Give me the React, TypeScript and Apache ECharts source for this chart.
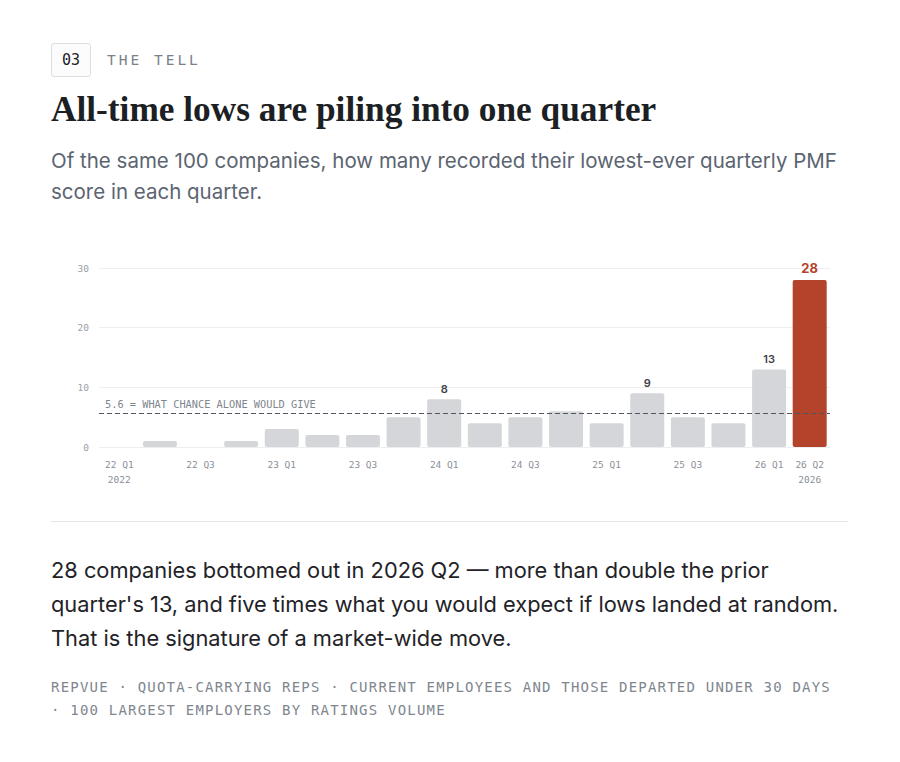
import React, { useEffect, useRef } from "react";
import * as echarts from "echarts";

const categories = [
  "22 Q1", "22 Q2", "22 Q3", "22 Q4",
  "23 Q1", "23 Q2", "23 Q3", "23 Q4",
  "24 Q1", "24 Q2", "24 Q3", "24 Q4",
  "25 Q1", "25 Q2", "25 Q3", "25 Q4",
  "26 Q1", "26 Q2",
];
const lowsCount = [0, 1, 0, 1, 3, 2, 2, 5, 8, 4, 5, 6, 4, 9, 5, 4, 13, 28];
const yearTags = ["2022", "", "", "", "", "", "", "", "", "", "", "", "", "", "", "", "", "2026"];
const labeledBars = [8, 13, 16, 17];
const highlightBar = 17;
const chanceLevel = 5.6;
const chanceLabel = "5.6 = WHAT CHANCE ALONE WOULD GIVE";
const yTicks = [0, 10, 20, 30];

const MONO = '"DejaVu Sans Mono", "Liberation Mono", monospace';
const SANS = 'Inter, "Noto Sans", sans-serif';
const SERIF = '"Liberation Serif", "DejaVu Serif", serif';

const GREY_BAR = "#d4d6d9";
const RED = "#b3432b";

export default function App() {
  const ref = useRef<HTMLDivElement>(null);

  useEffect(() => {
    if (!ref.current) return;
    const chart = echarts.init(ref.current, undefined, { renderer: "svg" });
    const data = lowsCount.map((v, i) => {
      const isHi = i === highlightBar;
      return {
        value: v,
        itemStyle: { color: isHi ? RED : GREY_BAR, borderRadius: 2 },
        label: {
          show: labeledBars.includes(i),
          position: "top",
          distance: 5,
          fontFamily: SANS,
          fontWeight: isHi ? 700 : 600,
          fontSize: isHi ? 13 : 11,
          color: isHi ? RED : "#3d434b",
        },
      };
    });
    chart.setOption({
      animation: false,
      grid: { left: 99, right: 70, top: 268, bottom: 315, containLabel: false },
      xAxis: {
        type: "category",
        data: categories,
        axisLine: { show: false },
        axisTick: { show: false },
        axisLabel: {
          interval: (i: number) => i % 2 === 0 || i === categories.length - 1,
          margin: 10,
          fontFamily: MONO,
          fontSize: 9.5,
          lineHeight: 15,
          color: "#8a9099",
          formatter: (val: string, idx: number) =>
            yearTags[idx] ? `${val}\n${yearTags[idx]}` : val,
        },
      },
      yAxis: {
        type: "value",
        min: yTicks[0],
        max: yTicks[yTicks.length - 1],
        interval: yTicks[1] - yTicks[0],
        axisLine: { show: false },
        axisTick: { show: false },
        axisLabel: {
          margin: 10,
          fontFamily: MONO,
          fontSize: 9.5,
          color: "#9aa0a6",
        },
        splitLine: { lineStyle: { color: "#eceef0", width: 1 } },
      },
      series: [
        {
          type: "bar",
          data,
          barWidth: 34,
          markLine: {
            silent: true,
            symbol: "none",
            data: [{ yAxis: chanceLevel }],
            lineStyle: { color: "#4f5661", type: [5, 3], width: 1.2 },
            label: {
              show: true,
              position: "insideStartTop",
              formatter: chanceLabel,
              fontFamily: MONO,
              fontSize: 10.3,
              color: "#80868e",
              distance: [6, 5],
            },
          },
        },
      ],
    });
    return () => chart.dispose();
  }, []);

  return (
    <div
      style={{
        position: "absolute",
        left: 0,
        top: 0,
        width: 900,
        height: 762,
        background: "#ffffff",
        overflow: "hidden",
      }}
    >
      <div ref={ref} style={{ position: "absolute", left: 0, top: 0, width: 900, height: 762 }} />
      <div
        style={{
          position: "absolute",
          left: 51,
          top: 43,
          width: 38,
          height: 32,
          border: "1px solid #dcdfe2",
          borderRadius: 3,
          background: "#fcfcfc",
          fontFamily: MONO,
          fontSize: 15,
          lineHeight: "32px",
          textAlign: "center",
          color: "#1f2226",
        }}
      >
        03
      </div>
      <div
        style={{
          position: "absolute",
          left: 107,
          top: 43,
          height: 34,
          lineHeight: "34px",
          fontFamily: MONO,
          fontSize: 14.5,
          letterSpacing: 3,
          color: "#7a8089",
        }}
      >
        THE TELL
      </div>
      <div
        style={{
          position: "absolute",
          left: 51,
          top: 89,
          lineHeight: "42px",
          fontFamily: SERIF,
          fontWeight: 700,
          fontSize: 35.3,
          color: "#1c1f24",
          whiteSpace: "nowrap",
        }}
      >
        All-time lows are piling into one quarter
      </div>
      <div
        style={{
          position: "absolute",
          left: 51,
          top: 145,
          lineHeight: "31px",
          fontFamily: SANS,
          fontSize: 20.5,
          color: "#5b6470",
          whiteSpace: "nowrap",
        }}
      >
        Of the same 100 companies, how many recorded their lowest-ever quarterly PMF
        <br />
        score in each quarter.
      </div>
      <div
        style={{
          position: "absolute",
          left: 51,
          top: 521,
          width: 797,
          height: 1,
          background: "#e6e8eb",
        }}
      />
      <div
        style={{
          position: "absolute",
          left: 51,
          top: 553,
          lineHeight: "34px",
          fontFamily: SANS,
          fontSize: 21.8,
          color: "#1f2328",
          whiteSpace: "nowrap",
        }}
      >
        28 companies bottomed out in 2026 Q2 — more than double the prior
        <br />
        quarter's 13, and five times what you would expect if lows landed at random.
        <br />
        That is the signature of a market-wide move.
      </div>
      <div
        style={{
          position: "absolute",
          left: 51,
          top: 676,
          lineHeight: "23px",
          fontFamily: MONO,
          fontSize: 14,
          letterSpacing: 1.2,
          color: "#80868e",
          whiteSpace: "nowrap",
        }}
      >
        REPVUE · QUOTA-CARRYING REPS · CURRENT EMPLOYEES AND THOSE DEPARTED UNDER 30 DAYS
        <br />· 100 LARGEST EMPLOYERS BY RATINGS VOLUME
      </div>
    </div>
  );
}
